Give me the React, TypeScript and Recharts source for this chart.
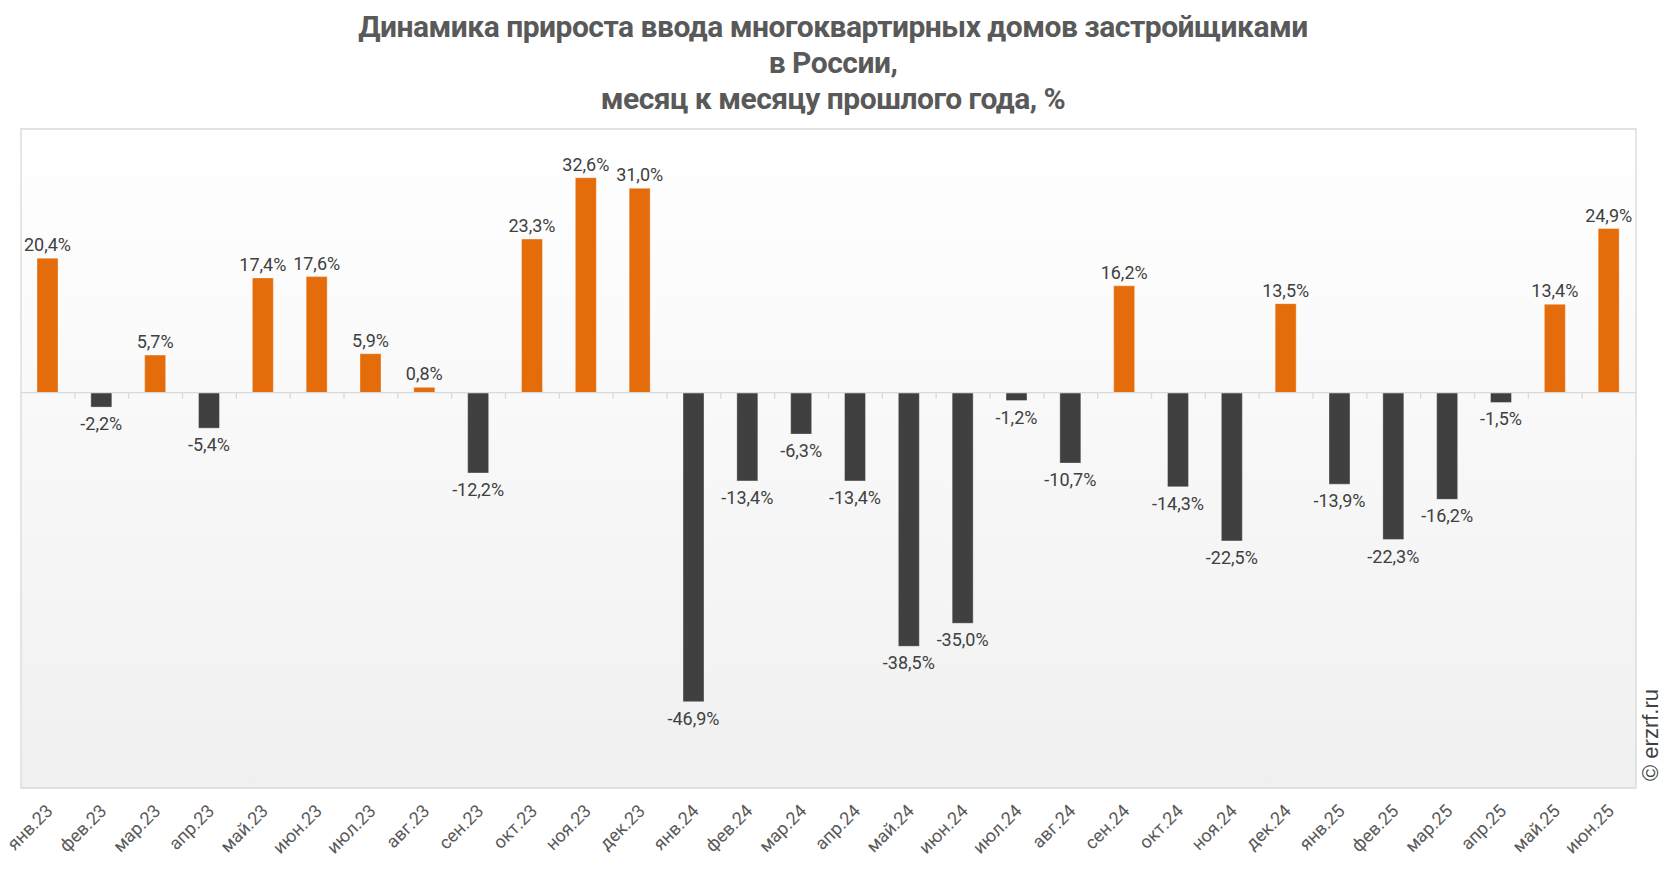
import React from 'react';
import { BarChart, Bar, XAxis, YAxis, CartesianGrid, Cell, LabelList, ReferenceLine, ReferenceArea } from 'recharts';

const months = [
  'янв.23', 'фев.23', 'мар.23', 'апр.23', 'май.23', 'июн.23', 'июл.23', 'авг.23', 'сен.23', 'окт.23', 'ноя.23', 'дек.23',
  'янв.24', 'фев.24', 'мар.24', 'апр.24', 'май.24', 'июн.24', 'июл.24', 'авг.24', 'сен.24', 'окт.24', 'ноя.24', 'дек.24',
  'янв.25', 'фев.25', 'мар.25', 'апр.25', 'май.25', 'июн.25',
];

const growth = [
  20.4, -2.2, 5.7, -5.4, 17.4, 17.6, 5.9, 0.8, -12.2, 23.3, 32.6, 31.0,
  -46.9, -13.4, -6.3, -13.4, -38.5, -35.0, -1.2, -10.7, 16.2, -14.3, -22.5, 13.5,
  -13.9, -22.3, -16.2, -1.5, 13.4, 24.9,
];

const titleLines = [
  'Динамика прироста ввода многоквартирных домов застройщиками',
  'в России,',
  'месяц к месяцу прошлого года, %',
];

const ORANGE = '#E46C0A';
const DARK = '#404040';

const data = months.map((m, i) => ({ month: m, value: growth[i] }));

const fmt = (v: number) => v.toFixed(1).replace('.', ',') + '%';

const ValueLabel = (props: any) => {
  const { x, y, width, height, value } = props;
  const cx = x + width / 2;
  const top = Math.min(y, y + height);
  const bottom = Math.max(y, y + height);
  if (value >= 0) {
    return (
      <text x={cx} y={top - 7} textAnchor="middle" fontSize={18} fill="#404040" fontFamily="Roboto">
        {fmt(value)}
      </text>
    );
  }
  return (
    <text x={cx} y={bottom + 23} textAnchor="middle" fontSize={18} fill="#404040" fontFamily="Roboto">
      {fmt(value)}
    </text>
  );
};

const MonthTick = (props: any) => {
  const { x, y, payload } = props;
  const ax = x + 6;
  const ay = y + 16;
  return (
    <text
      x={ax}
      y={ay}
      transform={`rotate(-45, ${ax}, ${ay})`}
      textAnchor="end"
      fontSize={18}
      fill="#595959"
      fontFamily="Roboto"
    >
      {payload.value}
    </text>
  );
};

// zero line with small ticks between categories
const ZeroLine = (props: any) => {
  const { x1, x2, y1 } = props;
  const n = months.length;
  const step = (x2 - x1) / n;
  const ticks = [];
  for (let i = 1; i < n; i++) {
    const tx = x1 + i * step;
    ticks.push(<line key={i} x1={tx} x2={tx} y1={y1} y2={y1 + 6} stroke="#d9d9d9" strokeWidth={1.3} />);
  }
  return (
    <g>
      <line x1={x1} x2={x2} y1={y1} y2={y1} stroke="#d9d9d9" strokeWidth={1.3} />
      {ticks}
    </g>
  );
};

const App: React.FC = () => {
  return (
    <div style={{ position: 'absolute', left: 0, top: 0, width: 1666, height: 872, background: '#fff' }}>
      <div
        style={{
          position: 'absolute',
          left: 0,
          top: 9,
          width: 1666,
          textAlign: 'center',
          fontFamily: 'Roboto',
          fontWeight: 700,
          fontSize: 30,
          lineHeight: '36px',
          color: '#595959',
          letterSpacing: -0.5,
        }}
      >
        {titleLines.map((t) => (
          <div key={t}>{t}</div>
        ))}
      </div>
      <div style={{ position: 'absolute', left: 0, top: 0 }}>
        <BarChart
          width={1666}
          height={872}
          data={data}
          margin={{ top: 129, right: 30, bottom: 14, left: 21 }}
          barSize={21}
        >
          <defs>
            <linearGradient id="plotBg" x1="0" y1="0" x2="0" y2="1">
              <stop offset="0%" stopColor="#ffffff" />
              <stop offset="100%" stopColor="#f0f0f0" />
            </linearGradient>
          </defs>
          <CartesianGrid horizontal={false} vertical={false} fill="url(#plotBg)" />
          <ReferenceArea y1={-60} y2={40} fill="none" stroke="#d9d9d9" strokeWidth={1.3} ifOverflow="visible" />
          <XAxis
            dataKey="month"
            height={70}
            axisLine={false}
            tickLine={false}
            interval={0}
            tick={<MonthTick />}
          />
          <YAxis hide domain={[-60, 40]} allowDataOverflow />
          <ReferenceLine y={0} shape={<ZeroLine />} />
          <Bar dataKey="value" isAnimationActive={false} stroke="rgba(255,255,255,0.35)" strokeWidth={1}>
            {data.map((d) => (
              <Cell key={d.month} fill={d.value >= 0 ? ORANGE : DARK} />
            ))}
            <LabelList dataKey="value" content={<ValueLabel />} />
          </Bar>
        </BarChart>
      </div>
      <div
        style={{
          position: 'absolute',
          left: 1651,
          top: 735,
          transform: 'translate(-50%, -50%) rotate(-90deg)',
          fontFamily: 'Liberation Sans',
          fontSize: 22,
          color: '#404040',
          whiteSpace: 'nowrap',
        }}
      >
        © erzrf.ru
      </div>
    </div>
  );
};

export default App;
